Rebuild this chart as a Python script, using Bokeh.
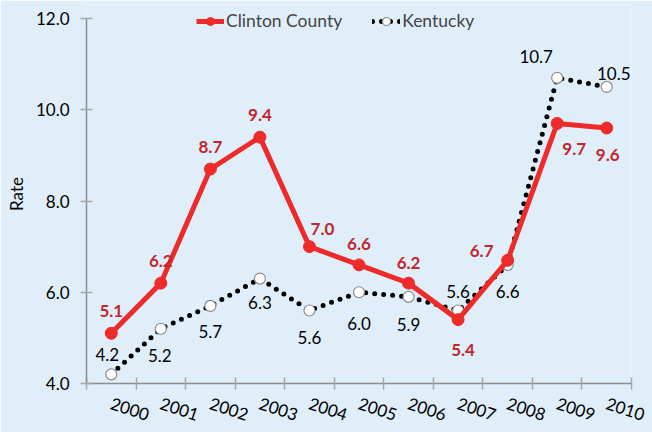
from bokeh.plotting import figure
from bokeh.models import Range1d, FixedTicker, ColumnDataSource, Legend, LegendItem, LabelSet, NumeralTickFormatter
from bokeh.core.properties import value
from bokeh.embed import file_html
from bokeh.resources import INLINE

years = ["2000", "2001", "2002", "2003", "2004", "2005", "2006", "2007", "2008", "2009", "2010"]
clinton = [5.1, 6.2, 8.7, 9.4, 7.0, 6.6, 6.2, 5.4, 6.7, 9.7, 9.6]
kentucky = [4.2, 5.2, 5.7, 6.3, 5.6, 6.0, 5.9, 5.6, 6.6, 10.7, 10.5]

# label offsets in screen pixels
c_dx = [0, 0, 0, 0, 13, 0, 0, 5, -26, 17, 1]
c_dy = [22, 22, 22, 22, 18, 21, 20, -30, 9, -26, -27]
k_dx = [-4, -1, 0, 0, 0, 0, 0, 0, 0, -21, 7]
k_dy = [20, -27, -26, -24, -27, -31, -28, 19, -27, 21, 13]

BG = "#E0EEF9"
FONT = "Lato"

xs = [i + 0.5 for i in range(len(years))]

p = figure(width=652, height=432, output_backend="svg", toolbar_location=None,
           x_range=Range1d(0, 11), y_range=Range1d(4, 4 + 379 / 45.625),
           min_border_left=86, min_border_right=21, min_border_top=4, min_border_bottom=49)
p.background_fill_color = BG
p.border_fill_color = BG
p.outline_line_color = None
p.xgrid.visible = False
p.ygrid.visible = False

src = ColumnDataSource(dict(x=xs, c=clinton, k=kentucky,
                            cl=[f"{v:.1f}" for v in clinton], kl=[f"{v:.1f}" for v in kentucky],
                            cdx=c_dx, cdy=c_dy, kdx=k_dx, kdy=k_dy))

kl = p.line("x", "k", source=src, line_color="black", line_width=5, line_dash="0 9", line_cap="round")
kc = p.scatter("x", "k", source=src, size=11, fill_color="white", line_color="#8C8C8C", line_width=1.2)
cl = p.line("x", "c", source=src, line_color="#EE2A2A", line_width=5)
cc = p.scatter("x", "c", source=src, size=12, fill_color="#EE2A2A", line_color="#EE2A2A")

p.add_layout(LabelSet(x="x", y="c", text="cl", source=src, x_offset="cdx", y_offset="cdy",
                      text_align="center", text_baseline="middle", text_font=value(FONT),
                      text_font_style="bold", text_font_size="17px", text_color="#C1272D"))
p.add_layout(LabelSet(x="x", y="k", text="kl", source=src, x_offset="kdx", y_offset="kdy",
                      text_align="center", text_baseline="middle", text_font=value(FONT),
                      text_font_size="17px", text_color="black"))

# x axis
xa = p.xaxis[0]
xa.ticker = FixedTicker(ticks=xs, minor_ticks=list(range(12)))
xa.major_label_overrides = {x: y for x, y in zip(xs, years)}
xa.major_tick_in = 0
xa.major_tick_out = 0
xa.minor_tick_in = 6
xa.minor_tick_out = 6
xa.minor_tick_line_color = "#A6A6A6"
xa.minor_tick_line_width = 1.5
xa.axis_line_color = "#8C8C8C"
xa.axis_line_width = 1.5
xa.major_label_orientation = -0.32
xa.major_label_standoff = 13
xa.major_label_text_font = FONT
xa.major_label_text_font_size = "17px"
xa.major_label_text_color = "black"

ya = p.yaxis[0]
ya.bounds = (4, 12)
ya.ticker = FixedTicker(ticks=[4, 6, 8, 10, 12], minor_ticks=[])
ya.formatter = NumeralTickFormatter(format="0.0")
ya.major_tick_in = 6
ya.major_tick_out = 6
ya.major_tick_line_color = "#A6A6A6"
ya.major_tick_line_width = 1.5
ya.axis_line_color = "#8C8C8C"
ya.axis_line_width = 1.5
ya.major_label_standoff = 11
ya.major_label_text_font = FONT
ya.major_label_text_font_size = "17px"
ya.major_label_text_color = "black"
ya.axis_label = "Rate"
ya.axis_label_text_font = FONT
ya.axis_label_text_font_size = "17px"
ya.axis_label_text_font_style = "normal"
ya.axis_label_text_color = "black"
ya.axis_label_standoff = 6

legend = Legend(items=[LegendItem(label="Clinton County", renderers=[cl, cc]),
                       LegendItem(label="Kentucky", renderers=[kl, kc])],
                location=(110, 352), orientation="horizontal",
                background_fill_alpha=0, border_line_color=None,
                label_text_font=FONT, label_text_font_size="17.5px",
                glyph_width=28, glyph_height=20, label_standoff=2, spacing=30,
                padding=0, margin=0)
p.add_layout(legend)

open("out.html", "w").write(file_html(p, INLINE))
